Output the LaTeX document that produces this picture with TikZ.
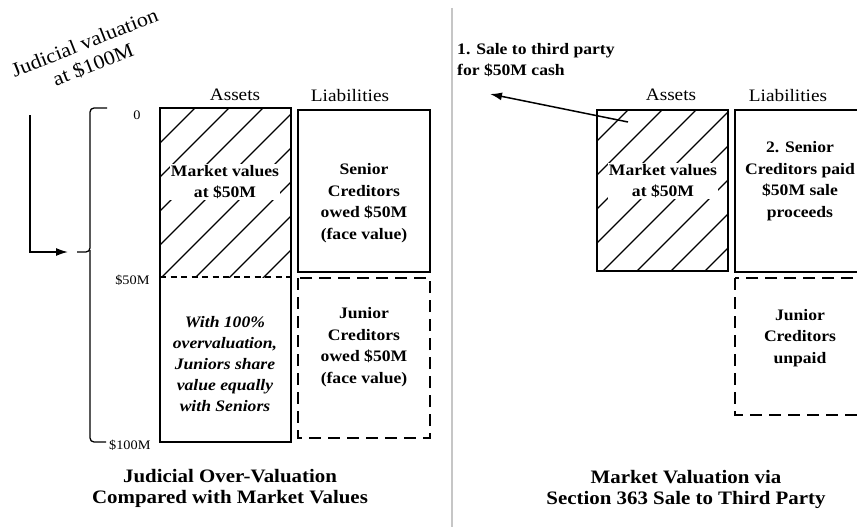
\documentclass[tikz,border=0pt]{standalone}
\usepackage{fontspec}
\setmainfont{Liberation Serif}[FakeStretch=1.1]
\usetikzlibrary{calc,arrows.meta}
\tikzset{
  box/.style={line width=2pt},
  dashbox/.style={line width=2pt, dash pattern=on 12pt off 7pt},
  divline/.style={line width=1.8pt, dash pattern=on 6pt off 4.5pt},
  hatch/.style={line width=1.2pt},
  boxtext/.style={font=\fontsize{16}{21.5}\selectfont\bfseries, align=center, inner sep=1pt},
  colhead/.style={font=\fontsize{17.5}{20}\selectfont, anchor=base},
  scalelab/.style={font=\fontsize{13}{15}\selectfont, anchor=east},
  caption/.style={font=\fontsize{19}{21}\selectfont\bfseries, align=center},
  pointer/.style={line width=1.5pt, -{Latex[length=12pt,width=8pt]}},
}

\begin{document}
\begin{tikzpicture}[x=1pt,y=-1pt]
    \useasboundingbox (0,0) rectangle (857,527);
    \clip (0,0) rectangle (857,527); % right column runs off the page

    % corners of the boxes
    \coordinate (la-nw) at (160,108);
    \coordinate (la-mid) at (291,277);
    \coordinate (la-se) at (291,442);
    \coordinate (ra-nw) at (597,110);
    \coordinate (ra-se) at (728,271);

    % hatching of the market values
    \begin{scope}
        \clip (la-nw) rectangle (la-mid);
        \foreach \k in {35,69,...,307}
            \draw[hatch] ($(la-nw)+(\k,0)$) -- ++(-220,220);
    \end{scope}
    \begin{scope}
        \clip (ra-nw) rectangle (ra-se);
        \foreach \k in {31,65,...,303}
            \draw[hatch] ($(ra-nw)+(\k,0)$) -- ++(-220,220);
    \end{scope}

    % left column: judicial valuation
    \draw[box] (la-nw) rectangle (la-se);
    \draw[divline] (la-nw |- la-mid) -- (la-mid);
    \draw[box] (298,110) rectangle (430,272);
    \draw[dashbox] (298,278) rectangle (430,438);

    \node[colhead] (la-head) at (235,100) {Assets};
    \node[colhead] (ll-head) at (350,101) {Liabilities};

    \node[boxtext, fill=white] (la-text) at (225,182) {Market values\\at \$50M};
    \node[boxtext, font=\fontsize{16}{21}\selectfont\bfseries\itshape] (lo-text) at (225,364)
        {With 100\%\\overvaluation,\\Juniors share\\value equally\\with Seniors};
    \node[boxtext] (ls-text) at (364,203) {Senior\\Creditors\\owed \$50M\\(face value)};
    \node[boxtext] (lj-text) at (364,347) {Junior\\Creditors\\owed \$50M\\(face value)};

    \node[scalelab] (s0) at (144,115) {0};
    \node[scalelab] (s50) at (153,280) {\$50M};
    \node[scalelab] (s100) at (154,445) {\$100M};

    % brace over the whole asset column
    \draw[line width=1.3pt, rounded corners=4pt] (107,108) -- (90,108) -- (90,252) -- (77,252);
    \draw[line width=1.3pt, rounded corners=4pt] (90,250) -- (90,442) -- (106,442);
    \coordinate (brace tip) at (77,252);

    \node[rotate=21.5, align=center, font=\fontsize{20}{23}\selectfont] (jv) at (89,54)
        {Judicial valuation\\at \$100M};
    \coordinate (jv foot) at (30,115);
    \draw[pointer, shorten >=9pt] (jv foot) |- (brace tip);

    \node[caption] (l-cap) at (230,488) {Judicial Over-Valuation\\Compared with Market Values};

    % divider
    \draw[gray!45, line width=1.5pt] (452,8) -- (452,527);

    % right column: section 363 sale
    \draw[box] (ra-nw) rectangle (ra-se);
    \draw[box] (735,110) rectangle (866,272);
    \draw[dashbox] (735,278) rectangle (866,415);

    \node[colhead] (ra-head) at (671,100) {Assets};
    \node[colhead] (rl-head) at (788,101) {Liabilities};

    \node[boxtext, fill=white] (ra-text) at (663,181) {Market values\\at \$50M};
    \node[boxtext] (rs-text) at (800,181) {2. Senior\\Creditors paid\\\$50M sale\\proceeds};
    \node[boxtext] (rj-text) at (800,338) {Junior\\Creditors\\unpaid};

    \node[boxtext, align=left, anchor=west] (sale) at (456,60) {1. Sale to third party\\for \$50M cash};
    \coordinate (sale from) at (628,122);
    \coordinate (sale to) at (490,94);
    \draw[pointer] (sale from) -- (sale to);

    \node[caption] (r-cap) at (686,489) {Market Valuation via\\Section 363 Sale to Third Party};
\end{tikzpicture}
\end{document}
